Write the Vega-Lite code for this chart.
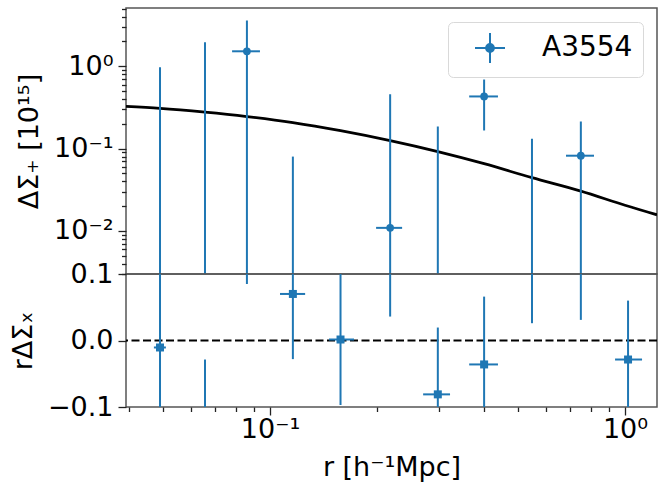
{
  "$schema": "https://vega.github.io/schema/vega-lite/v6.json",
  "padding": {"left": 8, "top": 7, "right": 8, "bottom": 4},
  "spacing": 0,
  "bounds": "flush",
  "datasets": {
    "pts": [
      {"name": "A3554", "r": 0.049, "rlo": 0.0471, "rhi": 0.0509, "dsp": null, "dsp_lo": 0.0001, "dsp_hi": 0.97, "dsx": -0.0105, "dsx_lo": -0.2, "dsx_hi": 0.2},
      {"name": "A3554", "r": 0.0656, "rlo": 0.06, "rhi": 0.071, "dsp": null, "dsp_lo": 0.0001, "dsp_hi": 1.96, "dsx": null, "dsx_lo": -0.2, "dsx_hi": -0.0286},
      {"name": "A3554", "r": 0.0861, "rlo": 0.0782, "rhi": 0.0937, "dsp": 1.52, "dsp_lo": 0.0001, "dsp_hi": 3.6, "dsx": null, "dsx_lo": 0.085, "dsx_hi": 0.3},
      {"name": "A3554", "r": 0.116, "rlo": 0.1067, "rhi": 0.1256, "dsp": null, "dsp_lo": 0.0001, "dsp_hi": 0.08, "dsx": 0.07, "dsx_lo": -0.028, "dsx_hi": 0.168},
      {"name": "A3554", "r": 0.158, "rlo": 0.1466, "rhi": 0.1725, "dsp": null, "dsp_lo": null, "dsp_hi": null, "dsx": 0.0015, "dsx_lo": -0.097, "dsx_hi": 0.12},
      {"name": "A3554", "r": 0.218, "rlo": 0.199, "rhi": 0.2356, "dsp": 0.0109, "dsp_lo": 0.0001, "dsp_hi": 0.456, "dsx": null, "dsx_lo": 0.036, "dsx_hi": 0.3},
      {"name": "A3554", "r": 0.297, "rlo": 0.27, "rhi": 0.3215, "dsp": null, "dsp_lo": 0.0001, "dsp_hi": 0.185, "dsx": -0.081, "dsx_lo": -0.18, "dsx_hi": 0.0195},
      {"name": "A3554", "r": 0.401, "rlo": 0.364, "rhi": 0.4387, "dsp": 0.43, "dsp_lo": 0.166, "dsp_hi": 0.69, "dsx": -0.036, "dsx_lo": -0.138, "dsx_hi": 0.066},
      {"name": "A3554", "r": 0.547, "rlo": 0.5, "rhi": 0.6, "dsp": null, "dsp_lo": 0.0001, "dsp_hi": 0.132, "dsx": null, "dsx_lo": 0.026, "dsx_hi": 0.3},
      {"name": "A3554", "r": 0.751, "rlo": 0.682, "rhi": 0.818, "dsp": 0.082, "dsp_lo": 0.0001, "dsp_hi": 0.214, "dsx": null, "dsx_lo": 0.031, "dsx_hi": 0.3},
      {"name": "A3554", "r": 1.02, "rlo": 0.9376, "rhi": 1.117, "dsp": null, "dsp_lo": null, "dsp_hi": null, "dsx": -0.0286, "dsx_lo": -0.117, "dsx_hi": 0.06}
    ],
    "model": [
      {"r": 0.0393, "ds": 0.325},
      {"r": 0.049, "ds": 0.308},
      {"r": 0.0656, "ds": 0.277},
      {"r": 0.0861, "ds": 0.245},
      {"r": 0.116, "ds": 0.207},
      {"r": 0.158, "ds": 0.165},
      {"r": 0.218, "ds": 0.125},
      {"r": 0.297, "ds": 0.092},
      {"r": 0.401, "ds": 0.0656},
      {"r": 0.547, "ds": 0.0443},
      {"r": 0.751, "ds": 0.0305},
      {"r": 1.0, "ds": 0.0205},
      {"r": 1.2307, "ds": 0.0157}
    ]
  },
  "vconcat": [
    {
      "width": 531,
      "height": 266,
      "resolve": {"axis": {"y": "independent"}},
      "layer": [
        {
          "data": {"name": "model"},
          "mark": {"type": "line", "color": "black", "strokeWidth": 2.8, "interpolate": "monotone", "clip": true},
          "encoding": {
            "x": {"field": "r", "type": "quantitative", "scale": {"type": "log", "domain": [0.0393, 1.2307], "nice": false}, "axis": null},
            "y": {"field": "ds", "type": "quantitative", "scale": {"type": "log", "domain": [0.003, 5.1], "nice": false}, "axis": null}
          }
        },
        {
          "data": {"name": "pts"},
          "transform": [{"filter": "datum.dsp_hi != null"}],
          "mark": {"type": "rule", "color": "#1f77b4", "strokeWidth": 2, "clip": true},
          "encoding": {
            "x": {"field": "r", "type": "quantitative", "axis": null},
            "y": {"field": "dsp_lo", "type": "quantitative",
                  "axis": {"orient": "left", "values": [0.01, 0.1, 1], "tickSize": 8, "labelPadding": 5, "titlePadding": 10,
                           "labelExpr": "datum.value > 0.5 ? '10⁰' : datum.value > 0.05 ? '10⁻¹' : '10⁻²'",
                           "title": "ΔΣ₊ [10¹⁵]"}},
            "y2": {"field": "dsp_hi"}
          }
        },
        {
          "data": {"name": "pts"},
          "transform": [{"filter": "datum.dsp != null"}],
          "mark": {"type": "rule", "color": "#1f77b4", "strokeWidth": 2, "clip": true},
          "encoding": {
            "x": {"field": "rlo", "type": "quantitative", "axis": null},
            "x2": {"field": "rhi"},
            "y": {"field": "dsp", "type": "quantitative", "axis": null}
          }
        },
        {
          "data": {"name": "pts"},
          "transform": [{"filter": "datum.dsp != null"}],
          "mark": {"type": "point", "shape": "circle", "filled": true, "size": 60, "opacity": 1, "clip": true},
          "encoding": {
            "x": {"field": "r", "type": "quantitative", "axis": null},
            "y": {"field": "dsp", "type": "quantitative",
                  "axis": {"orient": "left", "values": [0.003, 0.004, 0.005, 0.006, 0.007, 0.008, 0.009, 0.02, 0.03, 0.04, 0.05, 0.06, 0.07, 0.08, 0.09, 0.2, 0.3, 0.4, 0.5, 0.6, 0.7, 0.8, 0.9, 2, 3, 4, 5],
                           "tickSize": 4.5, "labels": false, "title": null}},
            "color": {"field": "name", "type": "nominal", "scale": {"range": ["#1f77b4"]},
                      "legend": {"title": null, "orient": "top-right", "offset": 14,
                                 "symbolType": "M-1,0H1M0,-1V1M-0.26,0A0.26,0.26,0,1,0,0.26,0A0.26,0.26,0,1,0,-0.26,0Z",
                                 "symbolSize": 900, "symbolStrokeWidth": 2, "symbolStrokeColor": "#1f77b4", "symbolFillColor": "#1f77b4",
                                 "symbolOffset": 16, "labelFontSize": 28, "labelOffset": 36, "padding": 10,
                                 "strokeColor": "#d9d9d9", "fillColor": "white", "cornerRadius": 5}}
          }
        }
      ]
    },
    {
      "width": 531,
      "height": 133,
      "resolve": {"axis": {"x": "independent"}},
      "layer": [
        {
          "data": {"values": [{}]},
          "mark": {"type": "rule", "color": "black", "strokeWidth": 2, "strokeDash": [8, 3.5]},
          "encoding": {
            "y": {"datum": 0, "type": "quantitative", "scale": {"domain": [-0.1, 0.1], "nice": false},
                  "title": "rΔΣₓ",
                  "axis": {"orient": "left", "values": [-0.1, 0, 0.1], "tickSize": 8, "labelPadding": 5, "titlePadding": 10,
                           "labelExpr": "datum.value > 0.05 ? '0.1' : datum.value < -0.05 ? '−0.1' : '0.0'"}}
          }
        },
        {
          "data": {"name": "pts"},
          "mark": {"type": "rule", "color": "#1f77b4", "strokeWidth": 2, "clip": true},
          "encoding": {
            "x": {"field": "r", "type": "quantitative", "scale": {"type": "log", "domain": [0.0393, 1.2307], "nice": false},
                  "axis": {"orient": "bottom", "values": [0.1, 1], "tickSize": 8, "labelPadding": 1, "titlePadding": 12,
                           "labelExpr": "datum.value > 0.5 ? '10⁰' : '10⁻¹'", "title": "r [h⁻¹Mpc]"}},
            "y": {"field": "dsx_lo", "type": "quantitative", "title": "rΔΣₓ"},
            "y2": {"field": "dsx_hi"}
          }
        },
        {
          "data": {"name": "pts"},
          "transform": [{"filter": "datum.dsx != null"}],
          "mark": {"type": "rule", "color": "#1f77b4", "strokeWidth": 2, "clip": true},
          "encoding": {
            "x": {"field": "rlo", "type": "quantitative", "axis": null},
            "x2": {"field": "rhi"},
            "y": {"field": "dsx", "type": "quantitative", "title": "rΔΣₓ"}
          }
        },
        {
          "data": {"name": "pts"},
          "transform": [{"filter": "datum.dsx != null"}],
          "mark": {"type": "point", "shape": "square", "filled": true, "size": 64, "opacity": 1, "color": "#1f77b4", "clip": true},
          "encoding": {
            "x": {"field": "r", "type": "quantitative",
                  "axis": {"orient": "bottom", "values": [0.04, 0.05, 0.06, 0.07, 0.08, 0.09, 0.2, 0.3, 0.4, 0.5, 0.6, 0.7, 0.8, 0.9],
                           "tickSize": 4.5, "labels": false, "title": null}},
            "y": {"field": "dsx", "type": "quantitative", "title": "rΔΣₓ"}
          }
        }
      ]
    }
  ],
  "config": {
    "font": "DejaVu Sans",
    "view": {"stroke": "#555555", "strokeWidth": 1.5},
    "axis": {
      "domain": false, "grid": false, "ticks": true, "tickColor": "#222", "tickWidth": 1.3,
      "labelFont": "DejaVu Sans", "labelFontSize": 27, "labelColor": "black",
      "titleFont": "DejaVu Sans", "titleFontSize": 27, "titleFontWeight": "normal", "titleColor": "black"
    },
    "legend": {"labelFont": "DejaVu Sans", "labelColor": "black"}
  }
}
